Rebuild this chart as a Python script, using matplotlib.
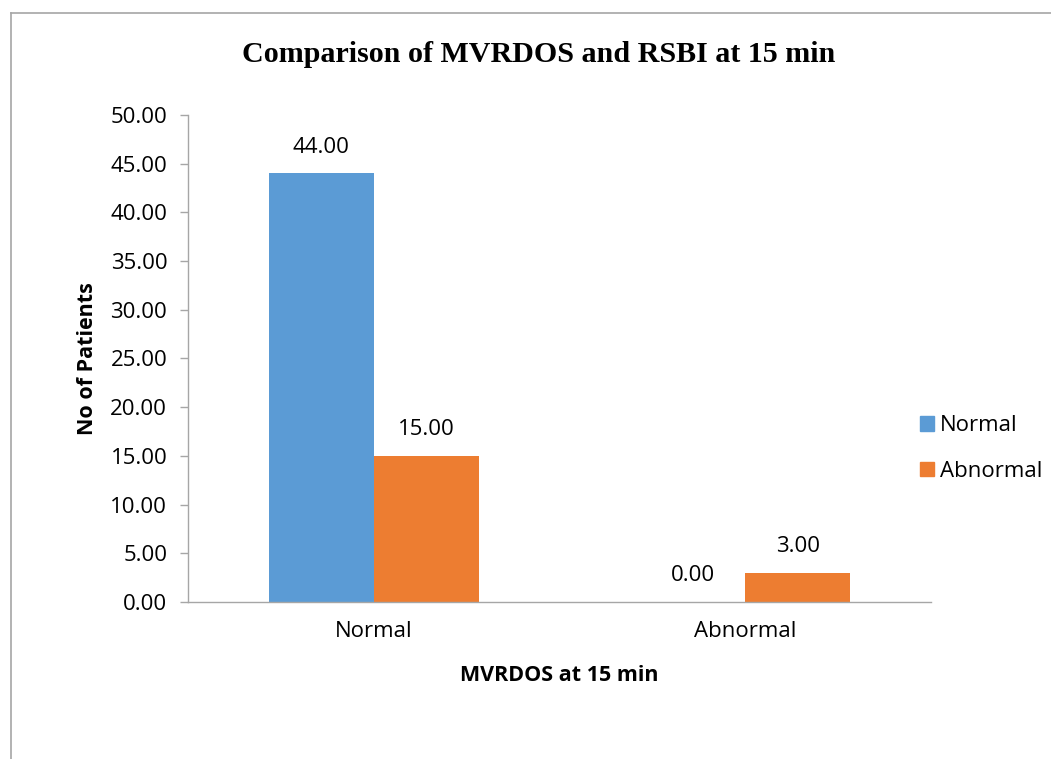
import matplotlib
matplotlib.use("Agg")
import matplotlib.pyplot as plt
from matplotlib.lines import Line2D
from matplotlib.patches import Patch

# MVRDOS groups on the x axis, RSBI result as the series
categories = ["Normal", "Abnormal"]
rsbi_normal = [44.00, 0.00]
rsbi_abnormal = [15.00, 3.00]
series_names = ["Normal", "Abnormal"]
y_ticks = [0, 5, 10, 15, 20, 25, 30, 35, 40, 45, 50]

blue = "#5B9BD5"
orange = "#ED7D31"
grey = "#A6A6A6"

plt.rcParams["font.family"] = ["Open Sans", "DejaVu Sans"]

fig = plt.figure(figsize=(10.51, 7.59), dpi=100)
ax = fig.add_axes([0.1789, 0.2069, 0.7069, 0.6416])

# outer frame of the chart area
fig.add_artist(Line2D([11 / 1051, 11 / 1051], [0, 1 - 13 / 759], transform=fig.transFigure,
                      color=grey, lw=1.2))
fig.add_artist(Line2D([11 / 1051, 1], [1 - 13 / 759, 1 - 13 / 759], transform=fig.transFigure,
                      color=grey, lw=1.2))

width = 0.283
x = list(range(len(categories)))
bars1 = ax.bar([i - width / 2 for i in x], rsbi_normal, width, color=blue, label=series_names[0])
bars2 = ax.bar([i + width / 2 for i in x], rsbi_abnormal, width, color=orange, label=series_names[1])

for bars, values in ((bars1, rsbi_normal), (bars2, rsbi_abnormal)):
    for b, v in zip(bars, values):
        ax.annotate("{:.2f}".format(v), (b.get_x() + b.get_width() / 2, v),
                    xytext=(0, 19), textcoords="offset points",
                    ha="center", va="center", fontsize=16)

ax.set_xlim(-0.5, 1.5)
ax.set_ylim(0, 50)
ax.set_yticks(y_ticks)
ax.set_yticklabels(["{:.2f}".format(t) for t in y_ticks])
ax.set_xticks(x)
ax.set_xticklabels(categories)

for side in ("top", "right"):
    ax.spines[side].set_visible(False)
for side in ("left", "bottom"):
    ax.spines[side].set_color(grey)
    ax.spines[side].set_linewidth(1.0)

ax.tick_params(axis="y", direction="out", length=6, width=1.0, color=grey,
               labelsize=16, pad=9)
ax.tick_params(axis="x", length=0, labelsize=16, pad=14)

ax.set_ylabel("No of Patients", fontsize=15.5, fontweight="bold")
ax.yaxis.set_label_coords(-0.135, 0.5)
ax.yaxis.label.set_va("center")
ax.set_xlabel("MVRDOS at 15 min", fontsize=15.5, fontweight="bold")
ax.xaxis.set_label_coords(0.5, -0.15)
ax.xaxis.label.set_va("center")

fig.text(539 / 1051, 1 - 54 / 759, "Comparison of MVRDOS and RSBI at 15 min",
         ha="center", va="center", fontsize=21.6, fontweight="bold",
         family=["Liberation Serif", "DejaVu Serif"])

handles = [Patch(color=blue), Patch(color=orange)]
ax.legend(handles, series_names, loc="center left", bbox_to_anchor=(0.9735, 0.315),
          frameon=False, fontsize=16, handlelength=0.6, handleheight=0.6,
          handletextpad=0.3, labelspacing=1.1, borderaxespad=0)

fig.savefig("out.png", dpi=100)
